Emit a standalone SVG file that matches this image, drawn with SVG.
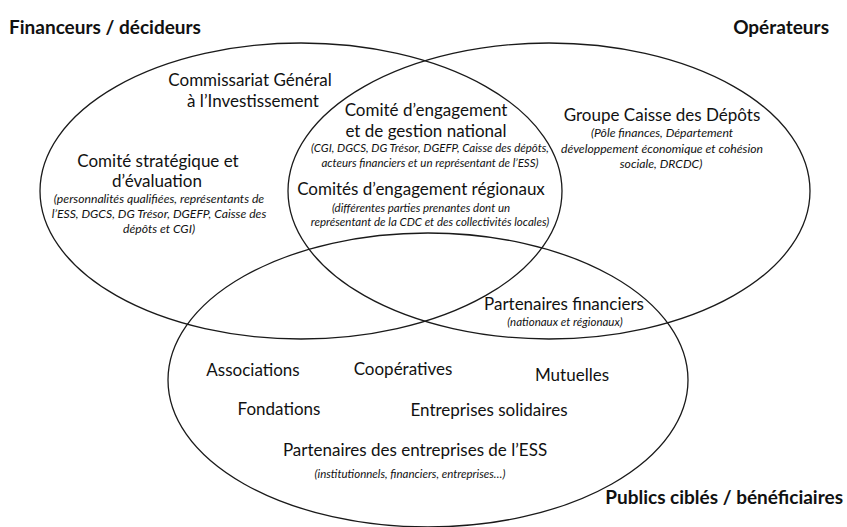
<svg xmlns="http://www.w3.org/2000/svg" width="847" height="527" viewBox="0 0 847 527">
  <style>
    .set { fill: none; stroke: #1a1a1a; stroke-width: 1.3; }
    .title { font-family: Lato, "Open Sans", sans-serif; font-weight: bold; font-size: 19px; fill: #111; }
    .lbl { font-family: Lato, "Open Sans", sans-serif; font-size: 17px; fill: #111; text-anchor: middle; }
    .note { font-family: Lato, "Open Sans", sans-serif; font-style: italic; font-size: 11.5px; fill: #111; text-anchor: middle; }
    .note-l { font-size: 12.2px; }
  </style>
  <rect width="847" height="527" fill="#fff"/>

  <!-- the three overlapping sets -->
  <g id="sets">
    <ellipse id="set-financeurs" class="set" cx="301" cy="191" rx="261" ry="148"/>
    <ellipse id="set-operateurs" class="set" cx="549" cy="191" rx="261" ry="148"/>
    <ellipse id="set-publics" class="set" cx="428" cy="380" rx="260" ry="147"/>
  </g>

  <!-- set titles -->
  <g id="title-financeurs"><text class="title" x="9" y="34">Financeurs / décideurs</text></g>
  <g id="title-operateurs"><text class="title" x="829" y="34" text-anchor="end">Opérateurs</text></g>
  <g id="title-publics"><text class="title" x="843" y="504" text-anchor="end">Publics ciblés / bénéficiaires</text></g>

  <!-- financeurs / décideurs -->
  <g id="cgi">
    <text class="lbl" x="250" y="86">Commissariat Général</text>
    <text class="lbl" x="253" y="107">à l’Investissement</text>
  </g>
  <g id="comite-strategique">
    <text class="lbl" x="158" y="167">Comité stratégique et</text>
    <text class="lbl" x="157" y="187">d’évaluation</text>
    <text class="note note-l" x="159" y="203">(personnalités qualifiées, représentants de</text>
    <text class="note note-l" x="159" y="218">l’ESS, DGCS, DG Trésor, DGEFP, Caisse des</text>
    <text class="note note-l" x="159" y="233">dépôts et CGI)</text>
  </g>

  <!-- financeurs ∩ opérateurs -->
  <g id="comite-national">
    <text class="lbl" x="426" y="116">Comité d’engagement</text>
    <text class="lbl" x="426" y="137">et de gestion national</text>
    <text class="note" x="430" y="152">(CGI, DGCS, DG Trésor, DGEFP, Caisse des dépôts,</text>
    <text class="note" x="430" y="167">acteurs financiers et un représentant de l’ESS)</text>
  </g>
  <g id="comites-regionaux">
    <text class="lbl" x="421" y="195">Comités d’engagement régionaux</text>
    <text class="note" x="421" y="212">(différentes parties prenantes dont un</text>
    <text class="note" x="430" y="226">représentant de la CDC et des collectivités locales)</text>
  </g>

  <!-- opérateurs -->
  <g id="groupe-cdc">
    <text class="lbl" x="662" y="121">Groupe Caisse des Dépôts</text>
    <text class="note note-l" x="662" y="137">(Pôle finances, Département</text>
    <text class="note note-l" x="662" y="153">développement économique et cohésion</text>
    <text class="note note-l" x="661" y="168">sociale, DRCDC)</text>
  </g>

  <!-- opérateurs ∩ publics -->
  <g id="partenaires-financiers">
    <text class="lbl" x="564" y="310">Partenaires financiers</text>
    <text class="note" x="565" y="326" font-size="12px">(nationaux et régionaux)</text>
  </g>

  <!-- publics ciblés / bénéficiaires -->
  <g id="associations"><text class="lbl" x="253" y="376">Associations</text></g>
  <g id="cooperatives"><text class="lbl" x="403" y="375">Coopératives</text></g>
  <g id="mutuelles"><text class="lbl" x="572" y="381">Mutuelles</text></g>
  <g id="fondations"><text class="lbl" x="279" y="415">Fondations</text></g>
  <g id="entreprises-solidaires"><text class="lbl" x="489" y="416">Entreprises solidaires</text></g>
  <g id="partenaires-ess">
    <text class="lbl" x="415" y="456">Partenaires des entreprises de l’ESS</text>
    <text class="note" x="410" y="478">(institutionnels, financiers, entreprises…)</text>
  </g>
</svg>
